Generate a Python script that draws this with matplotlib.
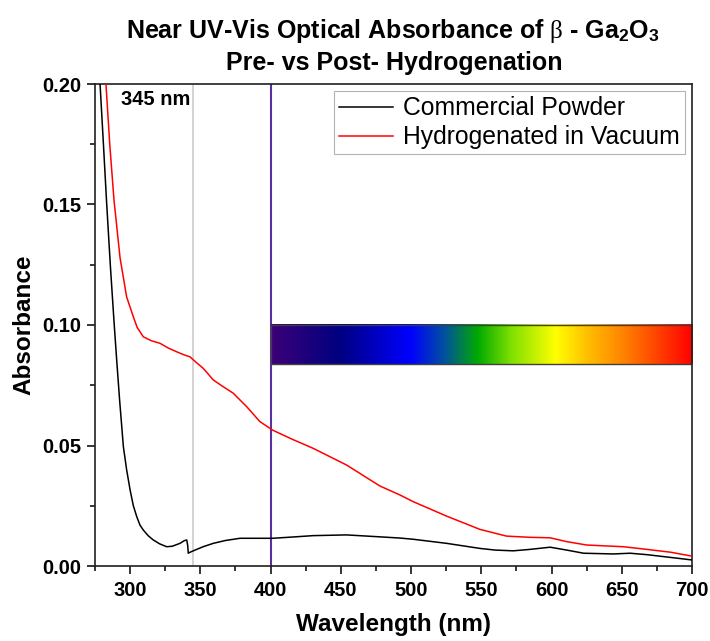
import numpy as np
import matplotlib
matplotlib.use("Agg")
import matplotlib.pyplot as plt
from matplotlib.colors import LinearSegmentedColormap
from matplotlib.patches import Rectangle
from matplotlib.ticker import MultipleLocator, FormatStrFormatter

plt.rcParams['font.family'] = ['Liberation Sans', 'DejaVu Sans']
plt.rcParams['mathtext.fontset'] = 'custom'
plt.rcParams['mathtext.rm'] = 'Liberation Sans:bold'
plt.rcParams['mathtext.it'] = 'Liberation Serif'
plt.rcParams['mathtext.bf'] = 'Liberation Sans:bold'

# 市販粉末
wl_commercial = [275, 278.6, 281, 283.3, 286, 288.7, 290.5, 292.5, 295.2, 297.5, 300,
                 302.3, 304.7, 307, 309.4, 313, 316.5, 321, 326, 330, 335.5, 338.5, 340.3,
                 341, 341.4, 343, 346.2, 352, 359.2, 368, 378.2, 390, 401.5, 415, 430.4,
                 454, 477.8, 492, 501.5, 525.3, 549, 560, 572.8, 584.8, 599, 610.9, 622.8,
                 644.1, 656, 668, 679.7, 690, 700]
abs_commercial = [0.26, 0.20, 0.175, 0.1505, 0.124, 0.100, 0.085, 0.069, 0.0495, 0.040,
                  0.0315, 0.025, 0.0205, 0.017, 0.0149, 0.0125, 0.0108, 0.0092, 0.0080, 0.0082,
                  0.0094, 0.0105, 0.0108, 0.0085, 0.0053, 0.0058, 0.0066, 0.0080, 0.0094, 0.0106,
                  0.0115, 0.0115, 0.0115, 0.0120, 0.0126, 0.0129, 0.0121, 0.0116, 0.0111, 0.0094,
                  0.0073, 0.0066, 0.0063, 0.0069, 0.0078, 0.0066, 0.0053, 0.0050, 0.0053, 0.0047,
                  0.0039, 0.0032, 0.0025]

# 真空中で水素化
wl_hydro = [275, 282.8, 285.5, 288.5, 292.8, 297.5, 302.3, 305, 309.4, 315, 321.3, 327,
            333.1, 338, 342.6, 347, 352.1, 359.2, 366, 373.4, 383, 392.4, 401.4, 415, 430.4,
            454.1, 477.8, 492, 501.5, 525.3, 549, 568, 584.8, 599, 610.9, 625.1, 651.2, 667.8,
            685, 699.9]
abs_hydro = [0.30, 0.20, 0.175, 0.152, 0.128, 0.1117, 0.1034, 0.099, 0.0951, 0.0935,
             0.0924, 0.0905, 0.0889, 0.0877, 0.0868, 0.0845, 0.0820, 0.0772, 0.0745, 0.0717,
             0.0661, 0.0599, 0.0564, 0.0527, 0.0488, 0.0419, 0.0332, 0.0295, 0.0267, 0.0207,
             0.0152, 0.0124, 0.0119, 0.0117, 0.0101, 0.0087, 0.0080, 0.0069, 0.0057, 0.0041]

band_edge = 345
visible_start = 400
bar_range = (400, 700, 0.0837, 0.0999)
spectrum_stops = [(0.0, '#3c0078'), (0.16, '#000080'), (0.33, '#0000ff'), (0.41, '#0050a0'),
                  (0.49, '#00aa00'), (0.57, '#80e000'), (0.675, '#ffff00'), (0.75, '#ffc000'),
                  (0.84, '#ff8000'), (1.0, '#ff0000')]

fig = plt.figure(figsize=(7.1, 6.41), dpi=100)
ax = fig.add_axes([95 / 710, 75 / 641, 597 / 710, 482 / 641])

ax.axvline(band_edge, color='#c8c8c8', lw=1.1, zorder=1)
ax.axvline(visible_start, color='#5a30a0', lw=1.5, zorder=1)

ax.plot(wl_commercial, abs_commercial, color='black', lw=1.1, label='Commercial Powder', zorder=3)
ax.plot(wl_hydro, abs_hydro, color='#ff0000', lw=1.1, label='Hydrogenated in Vacuum', zorder=3)

# スペクトルバー
cmap = LinearSegmentedColormap.from_list('spec', spectrum_stops)
grad = np.linspace(0, 1, 512).reshape(1, -1)
x0, x1, y0, y1 = bar_range
ax.imshow(grad, cmap=cmap, aspect='auto', extent=[x0, x1, y0, y1], zorder=2)
ax.add_patch(Rectangle((x0, y0), x1 - x0, y1 - y0, fill=False, ec='#404040', lw=1.0, zorder=2.5))

ax.text(343, 0.1934, '345 nm', ha='right', va='center', fontsize=14.5, fontweight='bold')

ax.set_xlim(275, 700)
ax.set_ylim(0, 0.20)
ax.xaxis.set_major_locator(MultipleLocator(50))
ax.xaxis.set_minor_locator(MultipleLocator(25))
ax.yaxis.set_major_locator(MultipleLocator(0.05))
ax.yaxis.set_minor_locator(MultipleLocator(0.025))
ax.yaxis.set_major_formatter(FormatStrFormatter('%.2f'))
ax.tick_params(which='major', direction='out', length=6, width=1.1, labelsize=14.5, pad=4)
ax.tick_params(axis='x', which='major', pad=5)
ax.tick_params(which='minor', direction='out', length=3.5, width=1.1)
for lab in ax.get_xticklabels() + ax.get_yticklabels():
    lab.set_fontweight('bold')
for s in ax.spines.values():
    s.set_linewidth(1.2)
    s.set_color('#202020')

ax.set_xlabel('Wavelength (nm)', fontsize=17.5, fontweight='bold', labelpad=9)
ax.set_ylabel('Absorbance', fontsize=17.5, fontweight='bold', labelpad=5)

leg = ax.legend(loc='upper right', fontsize=17.8, frameon=True, fancybox=False,
                edgecolor='#a0a0a0', handlelength=2.2, handletextpad=0.4,
                borderpad=0.2, labelspacing=0.2, borderaxespad=0.3)
leg.get_frame().set_linewidth(0.8)

fig.text(393 / 710, 1 - 31 / 641, r'Near UV-Vis Optical Absorbance of $\beta$ - Ga$_2$O$_3$',
         ha='center', va='center', fontsize=18, fontweight='bold')
fig.text(394 / 710, 1 - 63 / 641, 'Pre- vs Post- Hydrogenation',
         ha='center', va='center', fontsize=18, fontweight='bold')

plt.savefig('out.png', dpi=100)
